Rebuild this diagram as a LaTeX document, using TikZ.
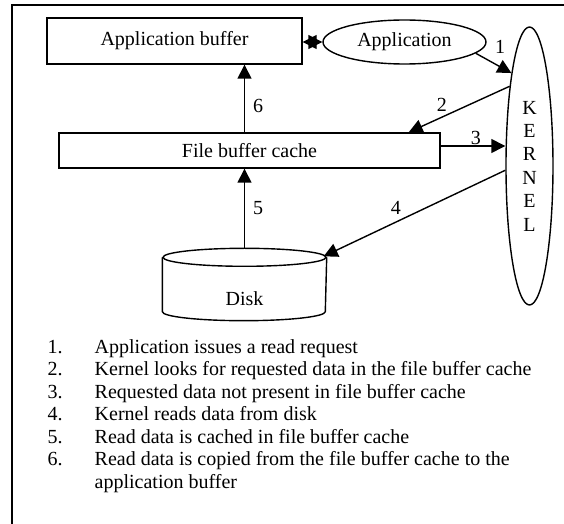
\documentclass[tikz,border=0pt]{standalone}
\usepackage{fontspec}
\setmainfont{Liberation Serif}
\usetikzlibrary{
  arrows.meta,
  calc,
  positioning,
  shapes.geometric,
}

\begin{document}
\begin{tikzpicture}[x=0.5pt, y=-0.5pt, line width=0.7pt,
  every node/.style={font=\fontsize{10}{11.25}\selectfont},
  box/.style={draw, rectangle, inner sep=0pt},
  arr/.style={-{Triangle[length=7pt,width=7pt]}},
  tag/.style={inner sep=0pt}]

\useasboundingbox (0,0) rectangle (564,524);
\clip (0,0) rectangle (564,524);

\draw (12,530) -- (12,5) -- (570,5);

\node[box, minimum width=127.5pt, minimum height=23pt] (appbuf) at (174.5,41) {Application buffer};
\node[draw, ellipse, inner sep=1pt, minimum width=81.5pt, minimum height=22pt] (app) at (404.5,42) {Application};
\node[box, minimum width=190.5pt, minimum height=17.5pt] (cache) at (249.5,150.5) {File buffer cache};
\node[draw, ellipse, align=center, minimum width=23.5pt, minimum height=139pt,
  font=\fontsize{10}{11.7}\selectfont] (kernel) at (529.5,166) {K\\E\\R\\N\\E\\L};

\node[minimum width=81.5pt, minimum height=35.5pt, inner sep=0pt] (disk) at (244.5,284.5) {};
\draw ([yshift=-4.5pt]disk.north) ellipse [x radius=40.75pt, y radius=4.5pt];
\draw ([yshift=-4.5pt]disk.north west) -- ([yshift=4.5pt]disk.south west)
  arc [start angle=180, end angle=360, x radius=40.75pt, y radius=4.5pt]
  -- ([yshift=-4.5pt]disk.north east);
\node (disklabel) at ([yshift=-7.25pt]disk.center) {Disk};

\draw[{Triangle[length=7pt,width=7pt]}-{Triangle[length=7pt,width=7pt]}] (app.west -| appbuf.east) -- (app.west);
\draw[arr] (app.-9) -- (kernel.101);
\draw[arr] (kernel.104) -- ([xshift=-16pt]cache.north east);
\draw[arr] ([yshift=2.25pt]cache.east) -- ([yshift=2.25pt]cache.east -| kernel.west);
\draw[arr] (kernel.190) -- ([xshift=-1.5pt,yshift=-4pt]disk.north east);
\draw[arr] (disk.north) -- (disk.north |- cache.south);
\draw[arr] (disk.north |- cache.north) -- (disk.north |- appbuf.south);

\node[tag] (n1) at (500,47) {1};
\node[tag] (n2) at (442,105) {2};
\node[tag] (n3) at (476,138) {3};
\node[tag] (n4) at (396,208) {4};
\node[tag] (n5) at (258,208) {5};
\node[tag] (n6) at (258,106) {6};

\node[anchor=north west, inner sep=0pt] (steps) at (47,337) {%
  \begin{tabular}{@{}p{23.5pt}@{}l@{}}
  1. & Application issues a read request\\
  2. & Kernel looks for requested data in the file buffer cache\\
  3. & Requested data not present in file buffer cache\\
  4. & Kernel reads data from disk\\
  5. & Read data is cached in file buffer cache\\
  6. & Read data is copied from the file buffer cache to the\\
     & application buffer
  \end{tabular}};
\end{tikzpicture}
\end{document}
